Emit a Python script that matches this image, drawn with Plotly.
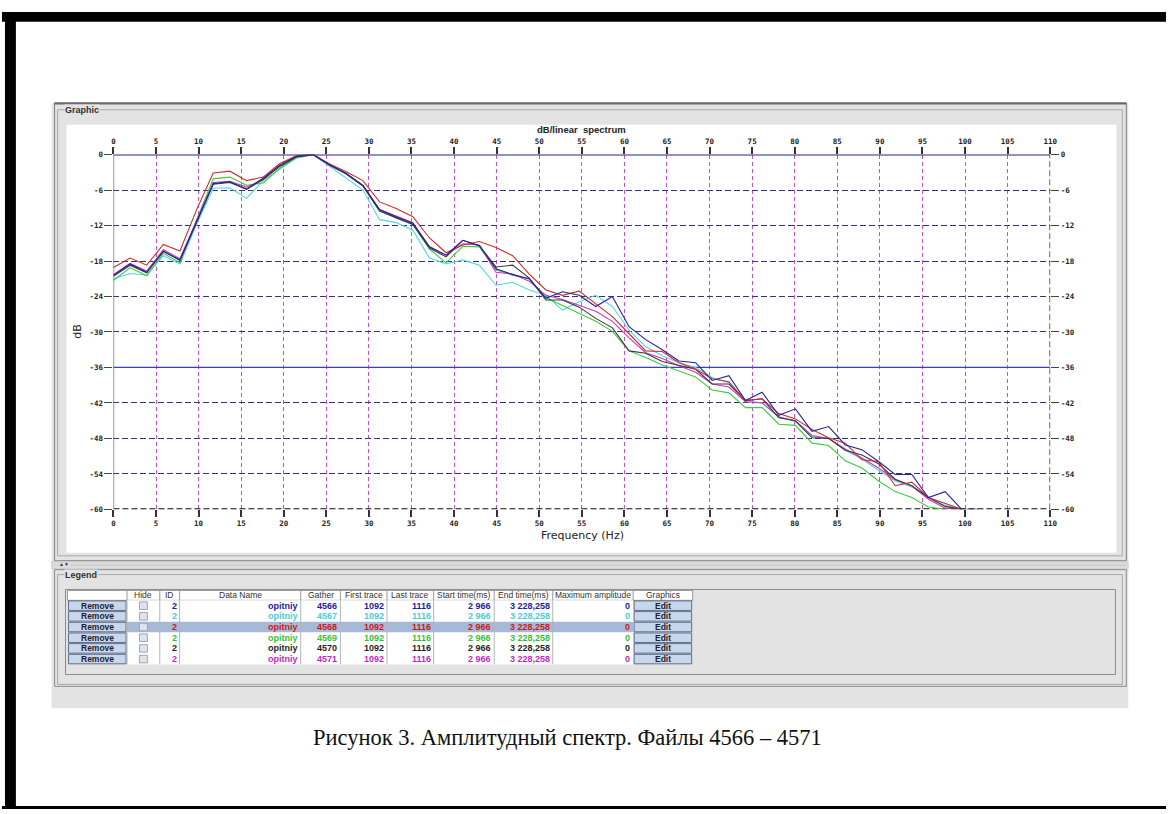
import plotly.graph_objects as go

# ---------------- data ----------------
freq_hz = [0.00, 1.95, 3.91, 5.86, 7.81, 9.77, 11.72, 13.67, 15.63, 17.58, 19.53, 21.48,
           23.44, 25.39, 27.34, 29.30, 31.25, 33.20, 35.16, 37.11, 39.06, 41.02, 42.97,
           44.92, 46.88, 48.83, 50.78, 52.73, 54.69, 56.64, 58.59, 60.55, 62.50, 64.45,
           66.41, 68.36, 70.31, 72.27, 74.22, 76.17, 78.13, 80.08, 82.03, 83.98, 85.94,
           87.89, 89.84, 91.80, 93.75, 95.70, 97.66, 99.61, 101.56]

db_4566 = [-20.4, -18.5, -19.9, -16.4, -17.8, -11.2, -4.9, -4.6, -5.8, -4.0, -1.8, -0.3,
           0.0, -1.7, -3.2, -5.2, -9.3, -10.5, -11.6, -15.6, -17.0, -14.5, -15.4,
           -19.3, -20.3, -21.0, -24.3, -23.2, -23.8, -25.7, -24.0, -29.1, -31.3, -33.0,
           -34.9, -35.2, -38.2, -37.4, -41.6, -40.2, -44.1, -43.0, -46.8, -46.0, -49.1,
           -49.9, -51.9, -54.1, -54.1, -58.0, -57.0, -60.0, -60.0]
db_4567 = [-21.0, -20.1, -20.4, -17.1, -18.5, -11.8, -5.7, -5.6, -7.4, -4.4, -2.5, -0.6,
           0.0, -2.0, -4.0, -6.0, -11.0, -11.5, -12.8, -17.5, -18.5, -17.8, -18.7,
           -22.1, -21.6, -22.9, -23.8, -26.3, -24.9, -23.8, -25.7, -29.7, -32.5, -34.0,
           -35.2, -36.0, -37.7, -38.6, -41.6, -42.0, -44.3, -45.2, -47.7, -48.0, -50.0,
           -51.5, -53.4, -55.2, -56.2, -58.0, -59.3, -60.0]
db_4568 = [-19.1, -17.5, -18.7, -15.2, -16.3, -9.3, -3.1, -2.8, -4.4, -3.8, -1.5, -0.2,
           0.0, -1.6, -2.9, -4.4, -8.0, -9.1, -10.5, -14.1, -16.6, -15.3, -14.7,
           -15.7, -17.1, -20.2, -22.9, -23.8, -23.1, -25.2, -27.4, -30.3, -33.2, -33.3,
           -35.2, -36.3, -37.9, -38.4, -41.6, -41.3, -43.8, -44.7, -46.5, -47.9, -48.8,
           -51.6, -51.9, -56.0, -55.4, -58.0, -59.0, -60.0]
db_4569 = [-21.3, -19.1, -20.5, -16.7, -18.3, -11.0, -4.1, -3.8, -5.2, -4.8, -2.3, -0.5,
           0.0, -1.6, -3.3, -5.3, -9.6, -10.6, -11.8, -16.0, -18.3, -15.5, -15.6,
           -19.5, -20.4, -21.0, -24.2, -25.5, -26.9, -28.2, -29.9, -33.2, -34.3, -35.6,
           -36.6, -37.6, -39.8, -40.3, -42.8, -42.8, -45.6, -45.8, -48.8, -49.2, -51.8,
           -53.0, -55.2, -57.0, -58.0, -59.6, -60.0]
db_4570 = [-20.6, -18.7, -20.0, -16.3, -17.9, -11.3, -5.0, -4.7, -5.9, -4.2, -2.0, -0.4,
           0.0, -1.8, -3.3, -5.3, -9.5, -10.7, -11.8, -15.8, -17.3, -14.5, -15.4,
           -19.0, -18.7, -20.9, -24.6, -24.6, -25.8, -27.7, -29.3, -33.2, -33.6, -35.0,
           -35.7, -36.3, -38.8, -38.8, -41.6, -41.3, -44.5, -45.0, -47.9, -48.0, -50.0,
           -50.8, -52.3, -54.9, -56.0, -58.0, -59.5, -60.0]
db_4571 = [-20.3, -18.4, -19.7, -16.1, -17.6, -11.0, -4.7, -4.5, -5.5, -4.2, -1.9, -0.2,
           0.0, -1.7, -3.2, -5.2, -9.3, -10.4, -11.5, -15.6, -17.0, -15.1, -15.3,
           -19.9, -20.2, -21.4, -23.8, -24.5, -25.5, -26.5, -28.2, -31.0, -33.5, -34.5,
           -35.7, -36.8, -38.8, -39.3, -41.8, -42.0, -44.4, -45.0, -47.5, -48.0, -49.8,
           -51.3, -53.0, -55.0, -56.0, -58.3, -59.8, -60.0]

x_ticks = [0, 5, 10, 15, 20, 25, 30, 35, 40, 45, 50, 55, 60, 65, 70, 75, 80, 85, 90, 95, 100, 105, 110]
y_ticks = [0, -6, -12, -18, -24, -30, -36, -42, -48, -54, -60]
y_tick_labels = ["0", "-6", "-12", "-18", "-24", "-30", "-36", "-42", "-48", "-54", "-60"]

# legend table
table_headers = ["", "Hide", "ID", "Data Name", "Gather", "First trace", "Last trace",
                 "Start time(ms)", "End time(ms)", "Maximum amplitude", "Graphics"]
row_ids = [2, 2, 2, 2, 2, 2]
data_names = ["opitniy", "opitniy", "opitniy", "opitniy", "opitniy", "opitniy"]
gathers = [4566, 4567, 4568, 4569, 4570, 4571]
first_traces = [1092, 1092, 1092, 1092, 1092, 1092]
last_traces = [1116, 1116, 1116, 1116, 1116, 1116]
start_times = ["2 966", "2 966", "2 966", "2 966", "2 966", "2 966"]
end_times = ["3 228,258", "3 228,258", "3 228,258", "3 228,258", "3 228,258", "3 228,258"]
max_amplitudes = [0, 0, 0, 0, 0, 0]

caption = "Рисунок 3. Амплитудный спектр. Файлы 4566 – 4571"

series = [db_4566, db_4567, db_4568, db_4569, db_4570, db_4571]
line_colors = ["#23239c", "#4fd8dc", "#d02a2a", "#3ccc3c", "#3a3a3a", "#c838c8"]
text_colors = ["#1c1ca6", "#45d0d4", "#cc1818", "#33c433", "#1e1e1e", "#c428c4"]
draw_order = [1, 3, 5, 4, 2, 0]

# ---------------- geometry helpers ----------------
W, H = 1173, 814
def X(p): return p / W
def Y(p): return 1 - p / H

shapes = []
annots = []

def rect(x0, y0, x1, y1, fill=None, line=None, lw=1, layer="below", dash=None):
    d = dict(type="rect", xref="paper", yref="paper", x0=X(x0), x1=X(x1), y0=Y(y0), y1=Y(y1),
             layer=layer, line=dict(width=lw if line else 0, color=line or "rgba(0,0,0,0)"))
    if dash:
        d["line"]["dash"] = dash
    if fill:
        d["fillcolor"] = fill
    shapes.append(d)

def hline(x0, x1, y, color, lw=1, layer="below", dash=None):
    d = dict(type="line", xref="paper", yref="paper", x0=X(x0), x1=X(x1), y0=Y(y), y1=Y(y),
             layer=layer, line=dict(color=color, width=lw))
    if dash:
        d["line"]["dash"] = dash
    shapes.append(d)

def vline(x, y0, y1, color, lw=1, layer="below", dash=None):
    d = dict(type="line", xref="paper", yref="paper", x0=X(x), x1=X(x), y0=Y(y0), y1=Y(y1),
             layer=layer, line=dict(color=color, width=lw))
    if dash:
        d["line"]["dash"] = dash
    shapes.append(d)

def text(x, y, s, size=9, color="#222", xanchor="center", family="Liberation Sans", bg=None, angle=0):
    a = dict(xref="paper", yref="paper", x=X(x), y=Y(y), text=s, showarrow=False,
             xanchor=xanchor, yanchor="middle", font=dict(size=size, color=color, family=family),
             borderpad=0, textangle=angle)
    if bg:
        a["bgcolor"] = bg
    annots.append(a)

PANEL = "#e3e3e3"

# ---------------- page frame ----------------
rect(0, 8, W, 18, fill="#000000")
rect(3, 8, 14, H, fill="#000000")
rect(0, 811, W, H, fill="#000000")

# window background
rect(50, 100, 1135, 712, fill=PANEL)

# Graphic panel
rect(53, 100, 1133, 563, line="#7d7d7d", lw=1)
hline(53, 1133, 100.5, "#6a6a6a", lw=2)
rect(56, 107, 1129, 558, line="#a8a8a8", lw=1)
rect(65, 122, 1123, 555, fill="#ffffff")
text(62, 107, "<b>Graphic</b>", size=9, color="#333", xanchor="left", bg=PANEL)

# splitter
rect(50, 564, 1135, 571, fill="#dcdcdc", line="#c0c0c0", lw=0.5)
hline(70, 1133, 567.5, "#b0b0b0", lw=1, dash="1px,1px")
text(62, 566.5, "▲▼", size=5, color="#334", xanchor="center")

# Legend panel
rect(53, 572, 1133, 690, line="#8a8a8a", lw=1)
rect(56, 577, 1129, 688, line="#a8a8a8", lw=1)
text(62, 577, "<b>Legend</b>", size=9, color="#333", xanchor="left", bg=PANEL)
rect(64, 592, 1122, 678, line="#8c8c8c", lw=1)

# ---------------- table ----------------
col_edges = [66, 126, 159, 179, 301, 341, 388, 435, 496, 555, 636, 696]
hdr_top, hdr_bot = 593, 603
row_h = 10.8

rect(col_edges[0], hdr_top, col_edges[-1], hdr_bot, fill="#ffffff", line="#9a9a9a", lw=1, layer="above")
for i, h in enumerate(table_headers):
    cx = (col_edges[i] + col_edges[i + 1]) / 2
    if h:
        text(cx, (hdr_top + hdr_bot) / 2, h, size=8.5, color="#333")
for e in col_edges[1:-1]:
    vline(e, hdr_top, hdr_bot, "#9a9a9a", lw=1, layer="above")

tbl_bot = hdr_bot + row_h * len(gathers)
rect(col_edges[1], hdr_bot, col_edges[10], tbl_bot, fill="#ffffff", layer="above")

for r in range(len(gathers)):
    top = hdr_bot + r * row_h
    bot = top + row_h
    cy = (top + bot) / 2
    if r == 2:
        rect(col_edges[1], top, col_edges[10], bot, fill="#a6bad8", layer="above")
    # remove button
    rect(col_edges[0] + 1, top + 0.6, col_edges[1] - 1, bot - 0.6, fill="#c9d7ea", line="#5e6f8e", lw=1, layer="above")
    text((col_edges[0] + col_edges[1]) / 2, cy, "<b>Remove</b>", size=8.5, color="#1a1f33")
    # checkbox
    cxh = (col_edges[1] + col_edges[2]) / 2
    rect(cxh - 4, cy - 3.8, cxh + 4, cy + 3.8, fill="#dfe4ec", line="#9aa6b8", lw=1, layer="above")
    # edit button
    rect(col_edges[10] + 1, top + 0.6, col_edges[11] - 1, bot - 0.6, fill="#c9d7ea", line="#5e6f8e", lw=1, layer="above")
    text((col_edges[10] + col_edges[11]) / 2, cy, "<b>Edit</b>", size=8.5, color="#1a1f33")
    vals = [row_ids[r], data_names[r], gathers[r], first_traces[r], last_traces[r],
            start_times[r], end_times[r], max_amplitudes[r]]
    c = text_colors[r]
    for j, v in enumerate(vals):
        right = col_edges[j + 3] - 2
        s = f"<b>{v}</b>"
        text(right, cy, s, size=9, color=c, xanchor="right")

for e in col_edges[2:10]:
    vline(e, hdr_bot, tbl_bot, "#b4b4b4", lw=1, layer="above")
vline(col_edges[1], hdr_bot, tbl_bot, "#b4b4b4", lw=1, layer="above")

# ---------------- caption ----------------
text(570, 742, caption, size=22.5, color="#111", family="Liberation Serif")

# ---------------- chart ----------------
fig = go.Figure()
for idx in draw_order:
    fig.add_trace(go.Scatter(x=freq_hz[:len(series[idx])], y=series[idx], mode="lines",
                             line=dict(color=line_colors[idx], width=1.1),
                             name=str(gathers[idx]), hoverinfo="x+y+name"))
fig.add_trace(go.Scatter(x=[0, 110], y=[-60, 0], xaxis="x2", yaxis="y2", mode="markers",
                         marker=dict(opacity=0), showlegend=False, hoverinfo="skip"))

def dline(x0, x1, y0, y1, color, lw, dash=None, layer="between"):
    d = dict(type="line", xref="x", yref="y", x0=x0, x1=x1, y0=y0, y1=y1, layer=layer,
             line=dict(color=color, width=lw))
    if dash:
        d["line"]["dash"] = dash
    shapes.append(d)

dline(0, 110, -36, -36, "#3b3bd0", 1.3)
dline(0, 110, 0, 0, "#2a2a6e", 2)
dline(0, 110, -60, -60, "#111111", 2, dash="6px,3px")
dline(0, 0, -60, 0, "#7a7a7a", 1.5)
dline(110, 110, -60, 0, "#333344", 1.5, dash="6px,3px")

tickfont = dict(family="DejaVu Sans Mono", size=7.5, color="#222", weight="bold")
xdom = [112.3 / W, 1056.3 / W]
ydom = [Y(511), Y(152.3)]

common_x = dict(range=[0, 110], tickmode="array", tickvals=x_ticks, ticktext=[str(t) for t in x_ticks],
                ticks="outside", ticklen=7, tickwidth=1.5, tickcolor="#333",
                tickfont=tickfont, zeroline=False, showline=False, domain=xdom, fixedrange=True)
common_y = dict(range=[-60, 0], tickmode="array", tickvals=y_ticks, ticktext=y_tick_labels,
                ticks="outside", ticklen=8, tickwidth=1.2, tickcolor="#444",
                tickfont=tickfont, zeroline=False, showline=False, domain=ydom, fixedrange=True)

text(584, 127, "<b>dB/linear  spectrum</b>", size=9.5, color="#222")
text(585, 537, "Frequency (Hz)", size=11, color="#222", family="DejaVu Sans")
text(76, 331, "dB", size=11, color="#222", family="DejaVu Sans", angle=-90)

fig.update_layout(
    width=W, height=H, margin=dict(l=0, r=0, t=0, b=0),
    paper_bgcolor="#ffffff", plot_bgcolor="#ffffff", showlegend=False,
    xaxis=dict(**common_x, side="bottom", showgrid=True, gridcolor="#cc4fcc", gridwidth=1,
               griddash="4px,3px"),
    xaxis2=dict(**common_x, side="top", overlaying="x", anchor="y", showgrid=False),
    yaxis=dict(**common_y, side="left", showgrid=True, gridcolor="#34347e", gridwidth=1.4,
               griddash="6px,3px"),
    yaxis2=dict(**common_y, side="right", overlaying="y", anchor="x", showgrid=False),
    shapes=shapes, annotations=annots,
)

fig.write_html("out.html", config={"displayModeBar": False},
               post_script="document.body.style.margin='0';document.body.style.overflow='hidden';")
